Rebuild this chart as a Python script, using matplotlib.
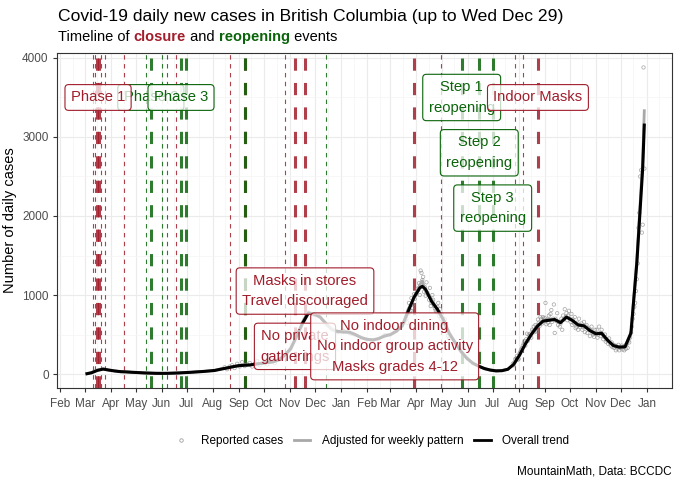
import matplotlib.pyplot as plt
import matplotlib.dates as mdates
from matplotlib.lines import Line2D
import pandas as pd

plt.rcParams['font.family'] = ['Liberation Sans', 'DejaVu Sans']

RED = "#A11D2B"
GREEN = "#0A640A"

# -------- Overall trend / weekly adjusted --------
trend_dates = [
    "2020-03-02", "2020-03-09", "2020-03-16", "2020-03-23", "2020-03-30", "2020-04-06",
    "2020-04-13", "2020-04-20", "2020-04-27", "2020-05-04", "2020-05-11", "2020-05-18",
    "2020-05-25", "2020-06-01", "2020-06-08", "2020-06-15", "2020-06-22", "2020-06-29",
    "2020-07-06", "2020-07-13", "2020-07-20", "2020-07-27", "2020-08-03", "2020-08-10",
    "2020-08-17", "2020-08-24", "2020-08-31", "2020-09-07", "2020-09-14", "2020-09-21",
    "2020-09-28", "2020-10-05", "2020-10-12", "2020-10-19", "2020-10-26", "2020-11-02",
    "2020-11-09", "2020-11-16", "2020-11-23", "2020-11-30", "2020-12-07", "2020-12-14",
    "2020-12-21", "2020-12-28", "2021-01-04", "2021-01-11", "2021-01-18", "2021-01-25",
    "2021-02-01", "2021-02-08", "2021-02-15", "2021-02-22", "2021-03-01", "2021-03-08",
    "2021-03-15", "2021-03-22", "2021-03-29", "2021-04-05", "2021-04-08", "2021-04-12",
    "2021-04-19", "2021-04-26", "2021-05-03", "2021-05-10", "2021-05-17", "2021-05-24",
    "2021-05-31", "2021-06-07", "2021-06-14", "2021-06-21", "2021-06-28", "2021-07-05",
    "2021-07-12", "2021-07-19", "2021-07-26", "2021-08-02", "2021-08-09", "2021-08-16",
    "2021-08-23", "2021-08-30", "2021-09-06", "2021-09-13", "2021-09-20", "2021-09-27",
    "2021-10-04", "2021-10-11", "2021-10-18", "2021-10-25", "2021-11-01", "2021-11-08",
    "2021-11-15", "2021-11-22", "2021-11-29", "2021-12-06", "2021-12-13", "2021-12-20",
    "2021-12-27", "2021-12-29",
]
trend_values = [
    0, 15, 45, 62, 50, 38,
    30, 26, 22, 18, 14, 11,
    9, 8, 9, 11, 14, 18,
    22, 27, 32, 38, 45, 60,
    75, 90, 105, 110, 115, 125,
    135, 145, 155, 180, 240, 320,
    480, 640, 770, 760, 720, 640,
    560, 540, 530, 530, 500, 460,
    440, 430, 450, 480, 500, 540,
    610, 790, 970, 1090, 1110, 1070,
    920, 820, 690, 520, 400, 290,
    200, 140, 100, 70, 50, 40,
    42, 60, 120, 240, 380, 500,
    600, 670, 680, 690, 650, 720,
    680, 620, 610, 550, 510, 515,
    430, 360, 340, 345, 520, 1400,
    2600, 3170,
]
adjusted_values = [
    2, 18, 52, 66, 48, 40,
    28, 30, 20, 19, 13, 12,
    8, 9, 8, 12, 13, 20,
    21, 29, 30, 40, 44, 64,
    72, 95, 100, 118, 110, 130,
    132, 150, 150, 190, 230, 340,
    470, 660, 790, 740, 730, 620,
    580, 520, 560, 510, 490, 470,
    430, 440, 440, 500, 490, 560,
    600, 820, 950, 1130, 1180, 1040,
    950, 800, 700, 500, 410, 280,
    210, 130, 105, 65, 52, 38,
    45, 58, 130, 230, 390, 490,
    620, 660, 700, 680, 660, 730,
    670, 630, 600, 560, 500, 530,
    420, 370, 330, 350, 510, 1450,
    2700, 3350,
]

# -------- Reported cases (points) --------
rep_a_start = "2020-08-15"  # every 3 days
rep_a_values = [85, 60, 95, 110, 75, 130, 95, 150, 100, 120, 140, 95, 130, 165,
                110, 140, 170, 120, 155, 180, 140]

rep_b_start = "2021-03-20"  # daily
rep_b_values = [700, 650, 760, 900, 780, 800, 960, 840, 880, 1010, 950, 1000,
                1020, 1080, 1060, 1150, 1000, 1310, 1280, 1190, 1230, 1040, 1100, 990,
                1160, 1030, 1000, 940, 1090, 860, 900, 1000, 940, 860, 830, 800,
                780, 850, 900, 740, 820, 700,
                760, 650, 700, 600, 690, 580, 560, 520, 480, 450]

rep_c_start = "2021-07-25"  # daily
rep_c_values = [130, 110, 150, 190, 200, 230, 180,
                190, 260, 280, 310, 330, 360, 390, 420, 360, 440, 510, 420, 500, 480,
                510, 460, 560, 540, 600, 530, 620, 570, 540, 690, 650, 610, 720, 700,
                640, 720, 690,
                710, 900, 630, 690, 650, 740, 620, 760, 810, 660, 700, 880, 520, 700,
                670, 770, 620, 660, 600, 640, 700, 560, 740, 690, 820, 720, 770, 680,
                740, 800,
                700, 660, 760, 620, 690, 640, 720, 580, 600, 650, 560, 700, 600, 620,
                640, 560, 590, 660, 530, 600, 620, 520, 580, 560, 480, 560, 600, 520,
                500, 470, 560,
                520, 560, 460, 500, 600, 520, 480, 560, 500, 440, 470, 500, 410, 440,
                420, 380, 450, 390, 360, 400, 340, 370, 330, 360, 300, 350, 320, 370,
                300, 340,
                330, 360, 310, 340, 300, 360, 320, 380, 330, 420, 400, 460, 520, 600,
                700, 760, 850, 900, 1050, 1200, 1400, 1850, 2040, 2500, 2580, 1790,
                1890, 3880, 2600]

# -------- Closure / reopening events --------
event_dates = ["2020-03-11", "2020-03-13", "2020-03-16", "2020-03-18", "2020-03-21",
               "2020-03-25", "2020-04-17", "2020-05-13", "2020-05-19", "2020-06-01",
               "2020-06-07", "2020-06-18", "2020-06-24", "2020-06-30", "2020-08-21",
               "2020-09-08", "2020-09-08", "2020-10-26", "2020-11-07", "2020-11-19",
               "2020-12-14", "2021-03-29", "2021-04-30", "2021-05-25", "2021-06-15",
               "2021-07-01", "2021-07-28", "2021-08-06", "2021-08-24"]
event_kind = ["closure", "closure", "closure", "closure", "closure",
              "closure", "closure", "reopening", "reopening", "reopening",
              "reopening", "closure", "reopening", "reopening", "closure",
              "closure", "reopening", "closure", "closure", "closure",
              "reopening", "closure", "closure", "reopening", "reopening",
              "reopening", "closure", "closure", "closure"]
event_major = [False, False, True, True, False,
               False, False, False, True, False,
               False, False, True, True, False,
               True, True, False, True, True,
               False, True, False, True, True,
               True, False, False, True]

label_text = ["Phase 2", "Phase 1", "Phase 3", "Masks in stores\nTravel discouraged",
              "No private\ngatherings",
              "No indoor dining\nNo indoor group activity\nMasks grades 4-12",
              "Step 1\nreopening", "Step 2\nreopening", "Step 3\nreopening",
              "Indoor Masks"]
label_dates = ["2020-05-19", "2020-03-17", "2020-06-24", "2020-11-19", "2020-11-07",
               "2021-03-06", "2021-05-25", "2021-06-15", "2021-07-01", "2021-08-24"]
label_y = [3500, 3500, 3500, 1050, 350, 350, 3500, 2800, 2100, 3500]
label_kind = ["reopening", "closure", "reopening", "closure", "closure",
              "closure", "reopening", "reopening", "reopening", "closure"]

colors = {"closure": RED, "reopening": GREEN}

# -------- Figure --------
fig = plt.figure(figsize=(6.8, 4.86), dpi=100)
ax = fig.add_axes([57 / 680, 1 - 388 / 486, (672 - 57) / 680, (388 - 53) / 486])

for d, k, m in zip(event_dates, event_kind, event_major):
    ax.axvline(pd.Timestamp(d), color=colors[k], lw=2.2 if m else 0.8,
               dashes=(4, 4), alpha=0.85, zorder=2)

rep_dates = (list(pd.date_range(rep_a_start, periods=len(rep_a_values), freq="3D"))
             + list(pd.date_range(rep_b_start, periods=len(rep_b_values), freq="D"))
             + list(pd.date_range(rep_c_start, periods=len(rep_c_values), freq="D")))
rep_values = rep_a_values + rep_b_values + rep_c_values
ax.scatter(rep_dates, rep_values, s=6, facecolors="none", edgecolors="#8C8C8C",
           linewidths=0.5, alpha=0.8, zorder=3)

tdates = pd.to_datetime(trend_dates)
ax.plot(tdates, adjusted_values, color="#A8A8A8", lw=2.0, zorder=4,
        solid_capstyle="butt")
ax.plot(tdates, trend_values, color="black", lw=2.2, zorder=5,
        solid_capstyle="butt")

for t, d, y, k in zip(label_text, label_dates, label_y, label_kind):
    ax.text(pd.Timestamp(d), y, t, ha="center", va="center", color=colors[k],
            fontsize=10.6, linespacing=1.6, zorder=6,
            bbox=dict(boxstyle="round,pad=0.4,rounding_size=0.25",
                      fc=(1, 1, 1, 0.75), ec=colors[k], lw=0.8))

# axes
ax.set_xlim(pd.Timestamp("2020-01-28"), pd.Timestamp("2022-01-31"))
ax.set_ylim(-177, 4063)
ax.set_yticks([0, 1000, 2000, 3000, 4000])
ax.set_yticks([500, 1500, 2500, 3500], minor=True)
ax.xaxis.set_major_locator(mdates.MonthLocator())
ax.xaxis.set_minor_locator(mdates.MonthLocator(bymonthday=16))
ax.xaxis.set_major_formatter(mdates.DateFormatter("%b"))
ax.grid(which="major", color="#EBEBEB", lw=0.8, zorder=0)
ax.grid(which="minor", color="#F4F4F4", lw=0.5, zorder=0)
ax.set_axisbelow(True)
for s in ax.spines.values():
    s.set_color("#333333")
    s.set_linewidth(0.8)
ax.tick_params(which="major", length=3, color="#333333", labelsize=8.5,
               labelcolor="#4D4D4D", pad=3)
ax.tick_params(axis="x", which="major", pad=4.5)
ax.tick_params(which="minor", length=0)
ax.set_ylabel("Number of daily cases", fontsize=10.5, labelpad=4)

# titles
fig.text(58 / 680, 1 - 17 / 486, "Covid-19 daily new cases in British Columbia (up to Wed Dec 29)",
         fontsize=12.6, va="center", ha="left")
t1 = fig.text(58 / 680, 1 - 41 / 486, "Timeline of ", fontsize=10.5, va="baseline", ha="left")
t2 = ax.annotate("closure", xy=(1, 0), xycoords=t1, va="bottom", ha="left",
                 fontsize=10.5, color=RED, fontweight="bold")
t3 = ax.annotate(" and ", xy=(1, 0), xycoords=t2, va="bottom", ha="left", fontsize=10.5)
t4 = ax.annotate("reopening", xy=(1, 0), xycoords=t3, va="bottom", ha="left",
                 fontsize=10.5, color=GREEN, fontweight="bold")
ax.annotate(" events", xy=(1, 0), xycoords=t4, va="bottom", ha="left", fontsize=10.5)

# legend
handles = [
    Line2D([], [], ls="none", marker="o", markersize=2.5, markerfacecolor="none",
           markeredgecolor="#A0A0A0", markeredgewidth=0.6),
    Line2D([], [], color="#A8A8A8", lw=2.0),
    Line2D([], [], color="black", lw=2.0),
]
fig.legend(handles, ["Reported cases", "Adjusted for weekly pattern", "Overall trend"],
           loc="center", bbox_to_anchor=(371 / 680, 1 - 441 / 486), ncol=3,
           frameon=False, fontsize=8.5, handlelength=1.4, handletextpad=1.0,
           columnspacing=0.9)

fig.text(672 / 680, 1 - 471 / 486, "MountainMath, Data: BCCDC", fontsize=8.5,
         ha="right", va="center")

fig.savefig("out.png", dpi=100)
